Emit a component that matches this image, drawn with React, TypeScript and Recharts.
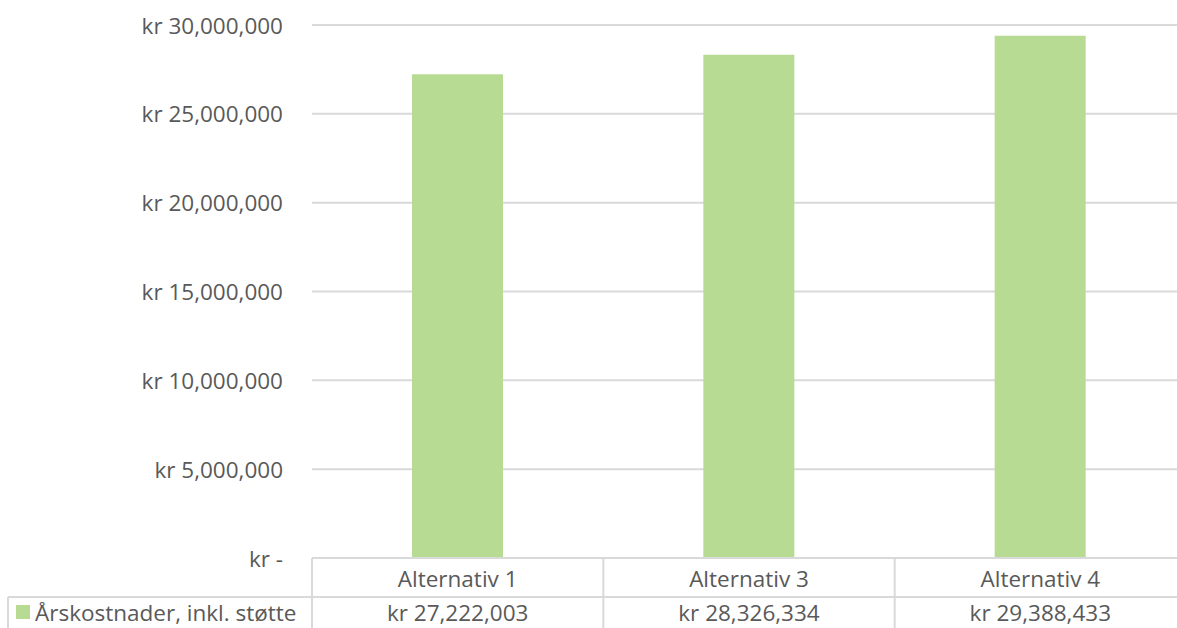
import React from 'react'
import { BarChart, Bar, XAxis, YAxis, CartesianGrid } from 'recharts'

const categories = ['Alternativ 1', 'Alternativ 3', 'Alternativ 4']
const costs = [27222003, 28326334, 29388433]
const yTicks = [0, 5000000, 10000000, 15000000, 20000000, 25000000, 30000000]
const seriesName = 'Årskostnader, inkl. støtte'

const data = categories.map((name, i) => ({ name, cost: costs[i] }))

const FONT = '"Open Sans", sans-serif'
const FS = 22.5
const TEXT = '#595959'
const LINE = '#D9D9D9'
const BAR = '#B7DB93'

const CHART_W = 1186
const CHART_H = 628
const AXIS_W = 312
const PLOT_BOTTOM = 558
const ROW_SPLIT = 597

const fmtKr = (v: number) => (v === 0 ? 'kr -' : `kr ${v.toLocaleString('en-US')}`)

const YTick = ({ y, payload }: any) => (
  <text
    x={283}
    y={y}
    textAnchor="end"
    dominantBaseline="central"
    fill={TEXT}
    fontSize={FS}
    fontFamily={FONT}
  >
    {fmtKr(payload.value)}
  </text>
)

// data table under the plot: category row + value row
const TableTick = ({ x, payload, index }: any) => {
  const band = (CHART_W - AXIS_W) / categories.length
  const right = x + band / 2
  return (
    <g>
      {index === 0 && (
        <g>
          <line x1={AXIS_W} y1={PLOT_BOTTOM} x2={AXIS_W} y2={CHART_H} stroke={LINE} strokeWidth={2} />
          <line x1={8} y1={ROW_SPLIT} x2={CHART_W} y2={ROW_SPLIT} stroke={LINE} strokeWidth={2} />
          <line x1={8} y1={ROW_SPLIT} x2={8} y2={CHART_H} stroke={LINE} strokeWidth={2} />
          <rect x={16} y={605} width={14} height={14} fill={BAR} />
          <text x={35} y={612} dominantBaseline="central" fill={TEXT} fontSize={FS} fontFamily={FONT}>
            {seriesName}
          </text>
        </g>
      )}
      <line x1={right} y1={PLOT_BOTTOM} x2={right} y2={CHART_H} stroke={LINE} strokeWidth={2} />
      <text x={x} y={578} textAnchor="middle" dominantBaseline="central" fill={TEXT} fontSize={FS} fontFamily={FONT}>
        {payload.value}
      </text>
      <text x={x} y={612} textAnchor="middle" dominantBaseline="central" fill={TEXT} fontSize={FS} fontFamily={FONT}>
        {fmtKr(costs[index])}
      </text>
    </g>
  )
}

export default function App() {
  return (
    <div style={{ position: 'absolute', left: 0, top: 0, width: 1177, height: CHART_H, overflow: 'hidden', background: '#fff' }}>
      <BarChart
        width={CHART_W}
        height={CHART_H}
        data={data}
        margin={{ top: 25, right: 0, left: 0, bottom: 0 }}
        barSize={91}
      >
        <CartesianGrid vertical={false} stroke={LINE} strokeWidth={2} />
        <XAxis
          dataKey="name"
          axisLine={{ stroke: LINE, strokeWidth: 2 }}
          tickLine={false}
          tick={<TableTick />}
          height={CHART_H - PLOT_BOTTOM}
          interval={0}
        />
        <YAxis
          width={AXIS_W}
          domain={[0, 30000000]}
          ticks={yTicks}
          axisLine={false}
          tickLine={false}
          tick={<YTick />}
        />
        <Bar dataKey="cost" fill={BAR} isAnimationActive={false} />
      </BarChart>
    </div>
  )
}
